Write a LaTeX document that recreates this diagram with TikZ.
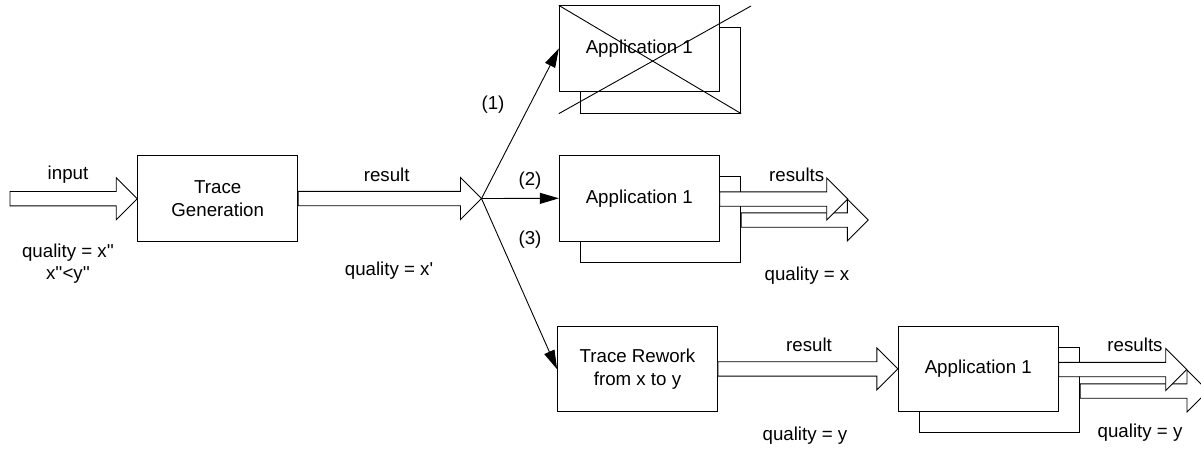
\documentclass[tikz,border=0pt]{standalone}
\usepackage{fontspec}
\setmainfont{Liberation Sans}
\usetikzlibrary{calc,arrows.meta}
\newcommand\blockarr[2]{%
  \draw[barrow] let \p1=(#1), \p2=(#2) in
    (\x1,\y2+7.2pt) -- (\x2-21pt,\y2+7.2pt) -- (\x2-21pt,\y2+21pt) -- (\x2,\y2)
    -- (\x2-21pt,\y2-21pt) -- (\x2-21pt,\y2-7.2pt) -- (\x1,\y2-7.2pt) -- cycle;}
\newcommand\sq{\textquotesingle}
\begin{document}
\begin{tikzpicture}[x=1pt,y=-1pt,
  font=\fontsize{18.7}{22.3}\selectfont,
  line width=0.9pt,
  box/.style={draw,fill=white,minimum width=160pt,minimum height=85.3pt,inner sep=0pt,align=center},
  barrow/.style={draw,fill=white,line join=miter},
  fanarrow/.style={-{Triangle[length=19pt,width=11pt]}},
  lbl/.style={inner sep=0pt,align=center}]
\useasboundingbox[fill=white] (0,0) rectangle (1201,448);

% input and trace generation
\coordinate (inp) at (10,198.7);
\node[box,minimum height=86pt] (tg) at (217.7,198.7) {Trace\\Generation};
\coordinate (fan) at (481.5,198.5);
\blockarr{inp}{tg.west}
\blockarr{tg.east}{fan}
\node[lbl] at (68,175) {input};
\node[lbl] at (386.7,175) {result};
\node[lbl] at (68,264) {quality = x\sq\sq\\x\sq\sq<y\sq\sq};
\node[lbl] at (389,271) {quality = x\sq};

% top (crossed out) application
\node[box] (topback) at (660.7,70.5) {};
\node[box] (topfront) at (639.3,48.5) {Application 1};
\coordinate (xend) at (751,6);
\draw (topfront.north west) -- (topback.south east);
\draw (topfront.west |- topback.south) -- (xend);

% middle application
\node[box] (midback) at (660.7,219.5) {};
\coordinate (midBtip) at (868.3,220);
\blockarr{midback.east |- midBtip}{midBtip}
\node[box] (midfront) at (639.3,198.3) {Application 1};
\coordinate (midAtip) at (847.7,199);
\blockarr{midfront.east |- midAtip}{midAtip}
\node[lbl] at (796.7,175) {results};
\node[lbl] at (807,276) {quality = x};

% fan connectors
\draw[fanarrow] (fan) -- (topfront.west);
\draw[fanarrow] (fan) -- (midfront.west);
\node[box] (tr) at (637.5,369.2) {Trace Rework\\from x to y};
\draw[fanarrow] (fan) -- (tr.west);
\node[lbl] at (493,105) {(1)};
\node[lbl] at (530,181) {(2)};
\node[lbl] at (530,240) {(3)};

% bottom application
\node[box] (botback) at (999.7,389.7) {};
\coordinate (botBtip) at (1208,391);
\blockarr{botback.east |- botBtip}{botBtip}
\node[box] (botfront) at (978.3,368.9) {Application 1};
\coordinate (botAtip) at (1186.7,369.5);
\blockarr{botfront.east |- botAtip}{botAtip}
\blockarr{tr.east}{botfront.west}
\node[lbl] at (809,345) {result};
\node[lbl] at (805,436) {quality = y};
\node[lbl] at (1135,345) {results};
\node[lbl] at (1140,433) {quality = y};
\end{tikzpicture}
\end{document}
